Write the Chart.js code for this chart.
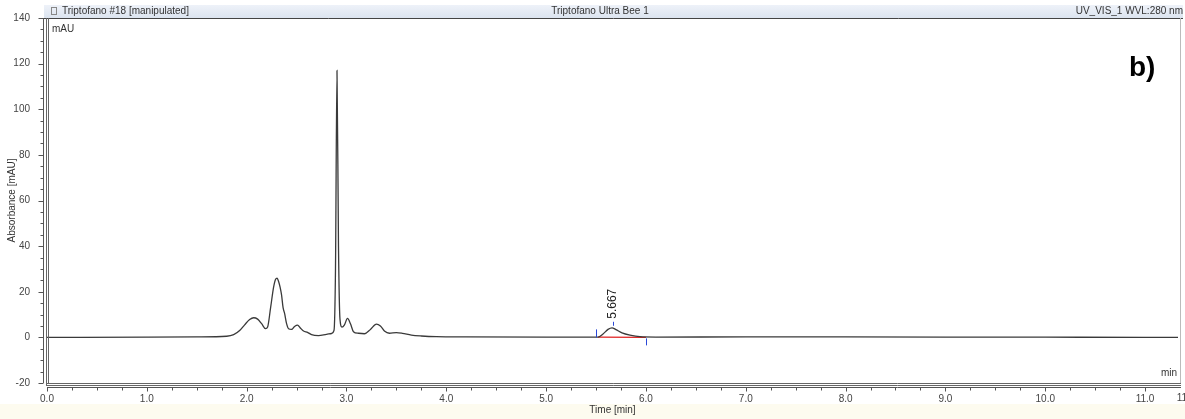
<!DOCTYPE html>
<html>
<head>
<meta charset="utf-8">
<script src="https://cdn.jsdelivr.net/npm/chart.js@4/dist/chart.umd.min.js"></script>
<style>
  html, body { margin: 0; padding: 0; background: #ffffff; }
  #wrap { width: 1185px; height: 419px; }
</style>
</head>
<body>
<div id="wrap"><canvas id="chrom" width="1185" height="419"></canvas></div>
<script>
// retention time [min] and absorbance [mAU]
const times = [0, 1.0, 1.5, 1.80, 1.87, 1.93, 1.98, 2.03, 2.07, 2.11, 2.15, 2.19, 2.21, 2.24, 2.27, 2.29, 2.305,
  2.32, 2.335, 2.35, 2.365, 2.38, 2.40, 2.42, 2.45, 2.48, 2.51, 2.54, 2.57, 2.61, 2.65, 2.72, 2.80, 2.85, 2.875,
  2.89, 2.905, 2.92, 2.935, 2.955, 2.98, 3.01, 3.04, 3.07, 3.12, 3.18, 3.24, 3.30, 3.34, 3.38, 3.43, 3.50, 3.56,
  3.65, 3.75, 3.9, 4.2, 5.0, 5.52, 5.57, 5.62, 5.66, 5.70, 5.76, 5.84, 5.94, 6.1, 7.0, 8.0, 9.0, 10.0, 11.0, 11.33];
const absorbance = [0.0, 0.1, 0.2, 0.5, 1.2, 3.0, 5.5, 7.8, 8.6, 8.0, 6.0, 3.8, 4.5, 13, 22, 25.5, 26,
  24.5, 22, 18.5, 13, 10.5, 6.0, 3.8, 3.5, 4.8, 5.4, 4.0, 2.8, 2.2, 1.2, 0.8, 1.3, 1.7, 3.0,
  30, 117, 40, 8, 4.5, 5.5, 8.3, 6.0, 2.5, 1.8, 1.6, 3.5, 5.8, 5.0, 2.8, 1.8, 2.1, 1.8,
  1.0, 0.6, 0.3, 0.2, 0.1, 0.1, 1.5, 3.5, 4.2, 3.4, 2.0, 1.0, 0.3, 0.15, 0.2, 0.2, 0.15, 0.1, 0.0, 0.0];

// integrated peak
const peakLabels = ['5.667'];
const peakTimes = [5.667];
const peakHeights = [4.2];
const peakStart = [5.52, 0.1];
const peakEnd = [6.0, 0.0];

const xMin = 0, xMax = 11.33, yMin = -20, yMax = 140;

const FONT = '"Liberation Sans", Arial, sans-serif';

const points = times.map((t, i) => ({x: t, y: absorbance[i]}));
const baseline = [{x: peakStart[0], y: peakStart[1]}, {x: peakEnd[0], y: peakEnd[1]}];

// header, frame, axis lines, ticks and peak annotation
const chromPlugin = {
    id: 'chromPlugin',
    beforeDraw(chart) {
        const ctx = chart.ctx;
        const a = chart.chartArea;
        ctx.save();
        ctx.fillStyle = '#ffffff';
        ctx.fillRect(0, 0, chart.width, chart.height);
        ctx.fillStyle = '#fdfbef';
        ctx.fillRect(0, 404, chart.width, chart.height - 404);

        // title bar
        const g = ctx.createLinearGradient(0, 5, 0, 17);
        g.addColorStop(0, '#eef2f9');
        g.addColorStop(1, '#dde5f0');
        ctx.fillStyle = g;
        ctx.fillRect(a.left - 3, 5, chart.width - a.left + 1, a.top - 5);
        ctx.restore();
    },
    afterDraw(chart) {
        const ctx = chart.ctx;
        const a = chart.chartArea;
        const xs = chart.scales.x;
        const ys = chart.scales.y;
        ctx.save();

        // header texts
        ctx.font = '10px ' + FONT;
        ctx.fillStyle = '#333';
        ctx.textBaseline = 'middle';
        ctx.textAlign = 'left';
        ctx.fillText('Triptofano #18 [manipulated]', a.left + 15, 11.5);
        ctx.textAlign = 'center';
        ctx.fillText('Triptofano Ultra Bee 1', 600, 11.5);
        ctx.textAlign = 'right';
        ctx.fillText('UV_VIS_1 WVL:280 nm', chart.width - 2, 11.5);
        // little icon
        ctx.strokeStyle = '#888';
        ctx.lineWidth = 1;
        ctx.strokeRect(a.left + 4.5, 7.5, 5, 7);

        ctx.fillStyle = '#333';
        ctx.textAlign = 'left';
        ctx.fillText('mAU', a.left + 5, 29);
        ctx.textAlign = 'right';
        ctx.fillText('min', a.right - 1, 373);

        // "b)"
        ctx.font = 'bold 28px ' + FONT;
        ctx.fillStyle = '#000';
        ctx.textAlign = 'left';
        ctx.fillText('b)', 1129, 68);

        // frame
        ctx.lineWidth = 1;
        ctx.strokeStyle = '#444';
        ctx.beginPath();
        ctx.moveTo(a.left - 3, a.top + 0.5); ctx.lineTo(chart.width - 2, a.top + 0.5);
        ctx.stroke();
        ctx.strokeStyle = '#666';
        ctx.beginPath();
        ctx.moveTo(a.left - 0.5, a.top); ctx.lineTo(a.left - 0.5, a.bottom + 3);
        ctx.moveTo(a.left + 1.5, a.top); ctx.lineTo(a.left + 1.5, a.bottom + 1);
        ctx.moveTo(a.left - 0.5, a.bottom + 0.5); ctx.lineTo(a.right + 3, a.bottom + 0.5);
        ctx.moveTo(a.left - 0.5, a.bottom + 2.5); ctx.lineTo(a.right + 3, a.bottom + 2.5);
        ctx.stroke();
        ctx.strokeStyle = '#bbb';
        ctx.beginPath();
        ctx.moveTo(a.right + 2.5, a.top); ctx.lineTo(a.right + 2.5, a.bottom);
        ctx.stroke();

        // y axis line + ticks
        const yAxisX = a.left - 3.5;
        ctx.strokeStyle = '#555';
        ctx.beginPath();
        ctx.moveTo(yAxisX, a.top); ctx.lineTo(yAxisX, a.bottom);
        ys.ticks.forEach(t => {
            const py = Math.round(ys.getPixelForValue(t.value)) + 0.5;
            const len = t.value % 20 === 0 ? 5 : 3;
            ctx.moveTo(yAxisX, py); ctx.lineTo(yAxisX - len, py);
        });
        ctx.stroke();

        // x axis line + ticks
        const xAxisY = a.bottom + 4.5;
        ctx.beginPath();
        ctx.moveTo(a.left, xAxisY); ctx.lineTo(a.right + 3, xAxisY);
        xs.ticks.forEach(t => {
            if (Math.abs(t.value * 4 - Math.round(t.value * 4)) > 1e-6) return;
            const px = Math.round(xs.getPixelForValue(t.value)) + 0.5;
            const len = Number.isInteger(t.value) ? 4 : 3;
            ctx.moveTo(px, xAxisY); ctx.lineTo(px, xAxisY + len);
        });
        ctx.stroke();
        ctx.font = '10px ' + FONT;
        ctx.fillStyle = '#444';
        ctx.textAlign = 'center';
        ctx.textBaseline = 'middle';
        ctx.fillText(xMax.toFixed(1), xs.getPixelForValue(xMax) + 8, 398);

        // peak annotation
        const y0 = ys.getPixelForValue(0);
        ctx.strokeStyle = '#2a48d8';
        ctx.lineWidth = 1;
        ctx.beginPath();
        const sx = Math.round(xs.getPixelForValue(peakStart[0] - 0.02)) + 0.5;
        ctx.moveTo(sx, y0); ctx.lineTo(sx, y0 - 8);
        const ex = Math.round(xs.getPixelForValue(peakEnd[0])) + 0.5;
        ctx.moveTo(ex, y0 + 1); ctx.lineTo(ex, y0 + 8);
        peakTimes.forEach((t, i) => {
            const px = Math.round(xs.getPixelForValue(t)) + 0.5;
            const py = ys.getPixelForValue(peakHeights[i]);
            ctx.moveTo(px, py - 2); ctx.lineTo(px, py - 6);
        });
        ctx.stroke();

        ctx.font = '12px ' + FONT;
        ctx.fillStyle = '#222';
        peakTimes.forEach((t, i) => {
            const px = xs.getPixelForValue(t);
            const py = ys.getPixelForValue(peakHeights[i]);
            ctx.save();
            ctx.translate(px, py - 9);
            ctx.rotate(-Math.PI / 2);
            ctx.textAlign = 'left';
            ctx.textBaseline = 'middle';
            ctx.fillText(peakLabels[i], 0, 0);
            ctx.restore();
        });
        ctx.restore();
    }
};

new Chart(document.getElementById('chrom').getContext('2d'), {
    type: 'line',
    data: {
        datasets: [{
            data: points,
            borderColor: '#3a3a3a',
            borderWidth: 1.3,
            pointRadius: 0,
            cubicInterpolationMode: 'monotone',
            fill: false
        }, {
            data: baseline,
            borderColor: '#e02020',
            borderWidth: 1.2,
            pointRadius: 0,
            fill: false
        }]
    },
    options: {
        responsive: false,
        animation: false,
        events: [],
        layout: { padding: { top: 18, right: 7, left: 0, bottom: 0 } },
        plugins: { legend: { display: false }, tooltip: { enabled: false } },
        scales: {
            x: {
                type: 'linear',
                min: xMin,
                max: xMax,
                grid: { display: false },
                border: { display: false },
                afterFit: s => { s.height = 36; },
                ticks: {
                    stepSize: 0.25,
                    autoSkip: false,
                    maxRotation: 0,
                    padding: 2,
                    color: '#444',
                    font: { family: FONT, size: 10 },
                    callback: v => Number.isInteger(v) ? v.toFixed(1) : ''
                },
                title: {
                    display: true,
                    text: 'Time [min]',
                    color: '#333',
                    font: { family: FONT, size: 10 },
                    padding: { top: 2, bottom: 3 }
                }
            },
            y: {
                min: yMin,
                max: yMax,
                grid: { display: false },
                border: { display: false },
                afterFit: s => { s.width = 47; },
                ticks: {
                    stepSize: 5,
                    autoSkip: false,
                    padding: 9,
                    color: '#444',
                    font: { family: FONT, size: 10 },
                    callback: v => v % 20 === 0 ? String(v) : ''
                },
                title: {
                    display: true,
                    text: 'Absorbance [mAU]',
                    color: '#333',
                    font: { family: FONT, size: 10 },
                    padding: { top: 6, bottom: 0 }
                }
            }
        }
    },
    plugins: [chromPlugin]
});
</script>
</body>
</html>
